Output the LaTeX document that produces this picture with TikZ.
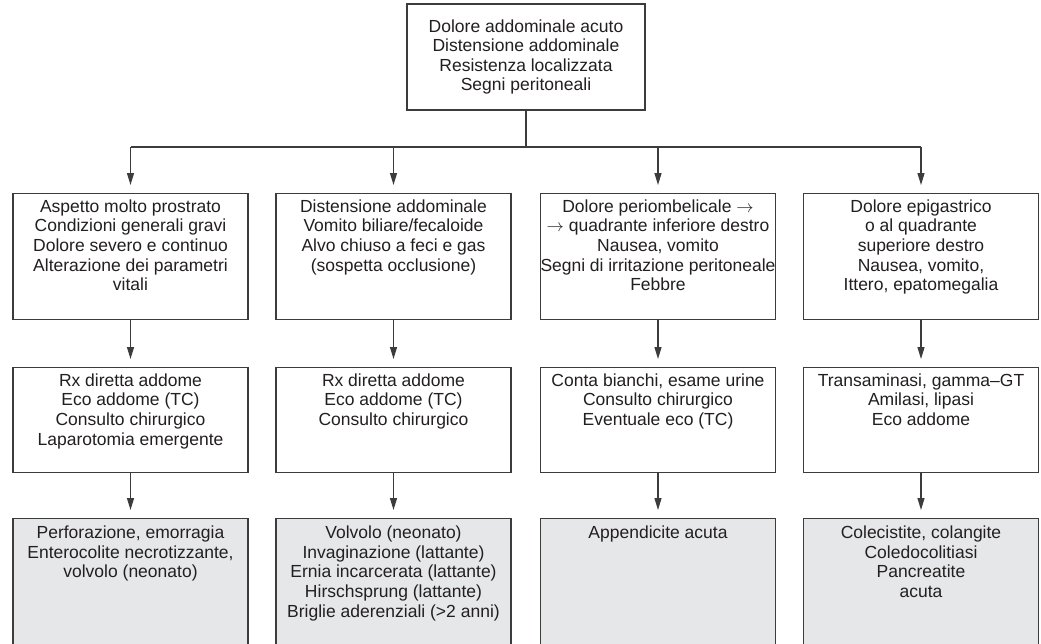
\documentclass[tikz,border=0pt]{standalone}
\usepackage{fontspec}
\setmainfont{Liberation Sans}
\usetikzlibrary{arrows.meta}
\definecolor{boxgray}{HTML}{E6E7E8}
\definecolor{linegray}{HTML}{3C3C3C}
\definecolor{txt}{HTML}{231F20}
\newcommand\bxt[3]{\parbox[c][#1][t]{235pt}{\vspace*{#2}\centering #3\par}}
\newcommand\ar{\ensuremath{\rightarrow}}
\begin{document}
\begin{tikzpicture}[x=1pt,y=-1pt,
  base/.style={draw=linegray, line width=1.2pt, inner sep=0pt, text=txt,
    font=\fontsize{17.5}{19.6}\selectfont},
  box/.style={base, fill=white, anchor=north},
  res/.style={base, fill=boxgray, anchor=north},
  ln/.style={draw=linegray, line width=1.2pt},
  arr/.style={ln, -{Triangle[length=12pt,width=7pt]}, shorten >=8pt}]
\clip (0,0) rectangle (1041,643);
\fill[white] (0,0) rectangle (1041,643);

% top box
\node[base, minimum width=238pt, minimum height=106pt, align=center] (top) at (526,57)
  {Dolore addominale acuto\\Distensione addominale\\Resistenza localizzata\\Segni peritoneali};

% row 2
\node[box] (a1) at (130.5,193) {\bxt{126pt}{6pt}{Aspetto molto prostrato\\Condizioni generali gravi\\Dolore severo e continuo\\Alterazione dei parametri\\vitali}};
\node[box] (a2) at (393.5,193) {\bxt{126pt}{6pt}{Distensione addominale\\Vomito biliare/fecaloide\\Alvo chiuso a feci e gas\\(sospetta occlusione)}};
\node[box] (a3) at (658,193) {\bxt{126pt}{6pt}{Dolore periombelicale \ar\\\ar{} quadrante inferiore destro\\Nausea, vomito\\Segni di irritazione peritoneale\\Febbre}};
\node[box] (a4) at (921,193) {\bxt{126pt}{6pt}{Dolore epigastrico\\o al quadrante\\superiore destro\\Nausea, vomito,\\Ittero, epatomegalia}};

% row 3
\node[box] (b1) at (130.5,367) {\bxt{105pt}{6pt}{Rx diretta addome\\Eco addome (TC)\\Consulto chirurgico\\Laparotomia emergente}};
\node[box] (b2) at (393.5,367) {\bxt{105pt}{6pt}{Rx diretta addome\\Eco addome (TC)\\Consulto chirurgico}};
\node[box] (b3) at (658,367) {\bxt{105pt}{6pt}{Conta bianchi, esame urine\\Consulto chirurgico\\Eventuale eco (TC)}};
\node[box] (b4) at (921,367) {\bxt{105pt}{6pt}{Transaminasi, gamma–GT\\Amilasi, lipasi\\Eco addome}};

% row 4
\node[res] (c1) at (130.5,518) {\bxt{150pt}{7.5pt}{Perforazione, emorragia\\Enterocolite necrotizzante,\\volvolo (neonato)}};
\node[res] (c2) at (393.5,518) {\bxt{150pt}{7.5pt}{Volvolo (neonato)\\Invaginazione (lattante)\\Ernia incarcerata (lattante)\\Hirschsprung (lattante)\\Briglie aderenziali (>2 anni)}};
\node[res] (c3) at (658,518) {\bxt{150pt}{7.5pt}{Appendicite acuta}};
\node[res] (c4) at (921,518) {\bxt{150pt}{7.5pt}{Colecistite, colangite\\Coledocolitiasi\\Pancreatite\\acuta}};

% connectors
\coordinate (j) at (526,147);
\draw[ln] (top.south) -- (j);
\draw[ln] (j -| a1.north) -- (j -| a4.north);
\foreach \n in {a1,a2,a3,a4} \draw[arr] (j -| \n.north) -- (\n.north);
\foreach \i in {1,2,3,4} {
  \draw[arr] (a\i.south) -- (b\i.north);
  \draw[arr] (b\i.south) -- (c\i.north);
}
\end{tikzpicture}
\end{document}
